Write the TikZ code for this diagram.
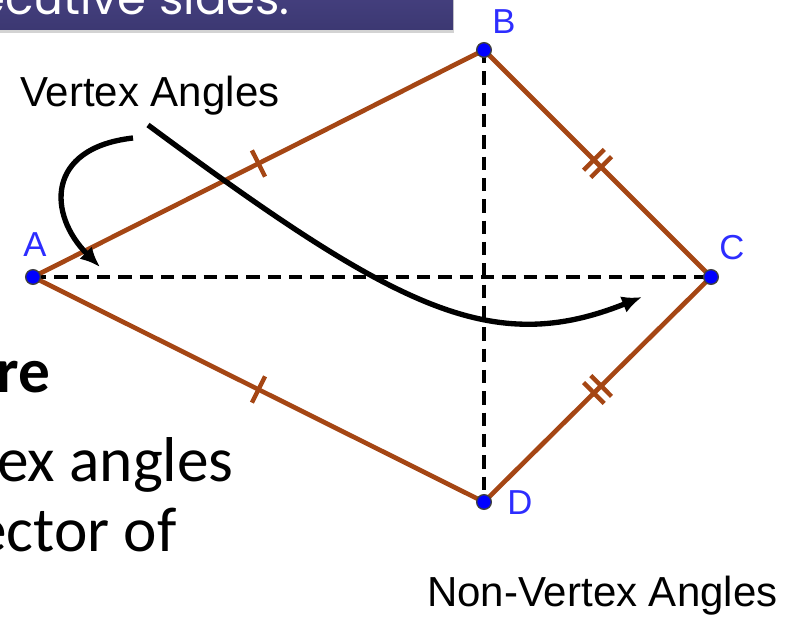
\documentclass[tikz,border=0pt]{standalone}
\usepackage{fontspec}
\setmainfont{Liberation Sans}
\newfontfamily\slidefont{Carlito}
\newfontfamily\headfont{Poppins}
\usetikzlibrary{arrows.meta,decorations.markings,shadows}

\definecolor{kiteside}{RGB}{165,70,20}
\definecolor{ptblue}{RGB}{0,0,255}
\definecolor{lblblue}{RGB}{45,45,255}
\definecolor{bannertop}{RGB}{72,67,132}
\definecolor{bannerbot}{RGB}{60,56,114}

\tikzset{
  side/.style={draw=kiteside, line width=3.5pt},
  onetick/.style={postaction={decorate}, decoration={markings,
    mark=at position 0.5 with {\draw[kiteside, line width=3.3pt] (0pt,-11pt) -- (0pt,11pt);}}},
  twotick/.style={postaction={decorate}, decoration={markings,
    mark=at position 0.5 with {\draw[kiteside, line width=3.3pt] (-3.8pt,-11pt) -- (-3.8pt,11pt) (3.8pt,-11pt) -- (3.8pt,11pt);}}},
  diag/.style={draw=black, line width=2.5pt, dash pattern=on 10pt off 6pt},
  vertex/.style={circle, fill=ptblue, draw=black!75, line width=1pt, inner sep=0pt, minimum size=11pt},
  ptlabel/.style={text=lblblue, font=\fontsize{26}{30}\selectfont, inner sep=0pt},
  callout/.style={font=\fontsize{31.5}{37}\selectfont, inner sep=0pt, anchor=base west},
  bodytext/.style={font=\slidefont\fontsize{47.5}{57}\selectfont, inner sep=0pt, anchor=base west},
  pointer/.style={draw=black, line width=4pt, -{Latex[length=15pt,width=13pt]}},
}

\begin{document}
\begin{tikzpicture}[x=0.75pt,y=0.75pt]
\useasboundingbox (0,0) rectangle (790,618);
\clip (0,0) rectangle (790,618);

% slide header and body text
\shade[top color=bannertop, bottom color=bannerbot, drop shadow={opacity=0.35, shadow xshift=1pt, shadow yshift=-2pt}]
  (-10,588) rectangle (453,640);
\node[font=\headfont\fontsize{35}{40}\selectfont, text=white, inner sep=0pt, anchor=base east] (head) at (290,603) {ecutive sides.};
\node[bodytext, font=\slidefont\bfseries\fontsize{47.5}{57}\selectfont] (bold) at (-4,225) {re};
\node[bodytext] (line1) at (-3,136) {ex angles};
\node[bodytext] (line2) at (-25,66) {ector of};

% kite
\coordinate (A) at (33,341);
\coordinate (B) at (484,568);
\coordinate (C) at (711,341);
\coordinate (D) at (484,116);
\draw[diag] (A) -- (C);
\draw[diag] (B) -- (D);
\draw[side, onetick] (A) -- (B);
\draw[side, twotick] (B) -- (C);
\draw[side, twotick] (C) -- (D);
\draw[side, onetick] (A) -- (D);

% callouts
\node[callout] (vtx) at (20,511) {Vertex Angles};
\node[callout] (nonvtx) at (427,11) {Non-Vertex Angles};
\coordinate (s1) at (133,480);
\coordinate (t1) at (100,351);
\coordinate (s2) at (148,493);
\coordinate (t2) at (642,321);
\draw[pointer] (s1) .. controls (45,470) and (48,403) .. (t1);
\draw[pointer] (s2) .. controls (398,308) and (492,261) .. (t2);

% points
\node[vertex] (a) at (A) {};
\node[vertex] (b) at (B) {};
\node[vertex] (c) at (C) {};
\node[vertex] (d) at (D) {};
\node[ptlabel] (la) at (35,373) {A};
\node[ptlabel] (lb) at (504,596) {B};
\node[ptlabel] (lc) at (732,370) {C};
\node[ptlabel] (ld) at (520,115) {D};
\end{tikzpicture}
\end{document}
